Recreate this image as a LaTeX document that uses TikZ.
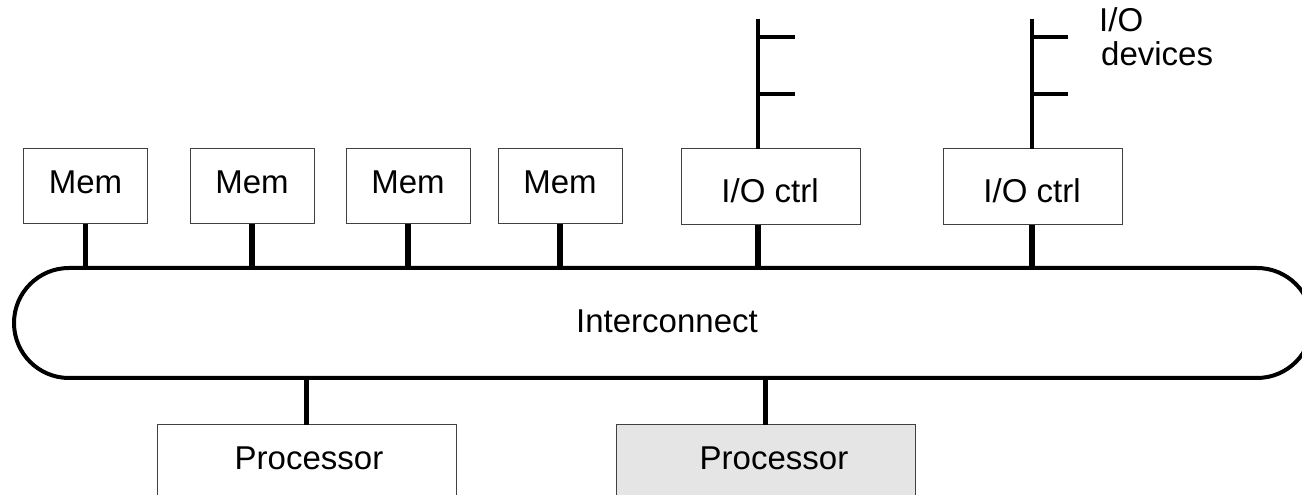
\documentclass[tikz,border=0pt]{standalone}
\usepackage{fontspec}
\setmainfont{Liberation Sans}
\usetikzlibrary{shapes.misc}
\begin{document}
\begin{tikzpicture}[x=1pt,y=1pt,
  box/.style={draw=black!75,line width=1pt,inner sep=0pt,outer sep=0pt,fill=white},
  lbl/.style={inner sep=0pt,anchor=base,font=\fontsize{33}{33}\selectfont},
  conn/.style={line width=5.5pt},
  bus/.style={line width=4pt}]
\useasboundingbox (0,0) rectangle (1302,495);
\clip (0,0) rectangle (1302,495);
% interconnect
\node[rounded rectangle,draw,line width=4pt,minimum width=1298pt,minimum height=110pt,
  inner sep=0pt,outer sep=0pt] (ic) at (663,172) {};
\node[lbl] (ict) at (667,162) {Interconnect};
% memory boxes
\foreach \n/\cx in {1/85.5,2/252,3/408,4/560}{
  \node[box,minimum width=124pt,minimum height=75pt] (m\n) at (\cx,308.5) {};
  \node[lbl] (m\n t) at (\cx,301.5) {Mem};
  \draw[conn] (m\n.south) -- (m\n.south |- ic.north);
}
% I/O controllers
\node[box,minimum width=179pt,minimum height=76pt] (io1) at (770.5,308) {};
\node[lbl] (io1t) at (770,292) {I/O ctrl};
\node[box,minimum width=179pt,minimum height=76pt] (io2) at (1032.5,308) {};
\node[lbl] (io2t) at (1032,292) {I/O ctrl};
\coordinate (d1) at (758,476);
\coordinate (d2) at (1032,476);
\draw[conn] (d1 |- io1.south) -- (d1 |- ic.north);
\draw[conn] (d2 |- io2.south) -- (d2 |- ic.north);
% device buses
\draw[bus] (d1) -- (d1 |- io1.north);
\draw[bus] (d2) -- (d2 |- io2.north);
\coordinate (s11) at (758,458); \coordinate (s12) at (758,401);
\coordinate (s21) at (1032,458); \coordinate (s22) at (1032,401);
\draw[bus] (s11) -- ++(37,0);
\draw[bus] (s12) -- ++(37,0);
\draw[bus] (s21) -- ++(36,0);
\draw[bus] (s22) -- ++(36,0);
\node[lbl,anchor=base west] (iod1) at (1099,463) {I/O};
\node[lbl,anchor=base west] (iod2) at (1101,429) {devices};
% processors
\node[box,minimum width=299pt,minimum height=100pt,anchor=north] (p1) at (306.5,70) {};
\node[lbl] (p1t) at (309,25) {Processor};
\node[box,fill=black!10,minimum width=299pt,minimum height=100pt,anchor=north] (p2) at (765.5,70) {};
\node[lbl] (p2t) at (774,25) {Processor};
\draw[conn] (p1.north) -- (p1.north |- ic.south);
\draw[conn] (p2.north) -- (p2.north |- ic.south);
\end{tikzpicture}
\end{document}
